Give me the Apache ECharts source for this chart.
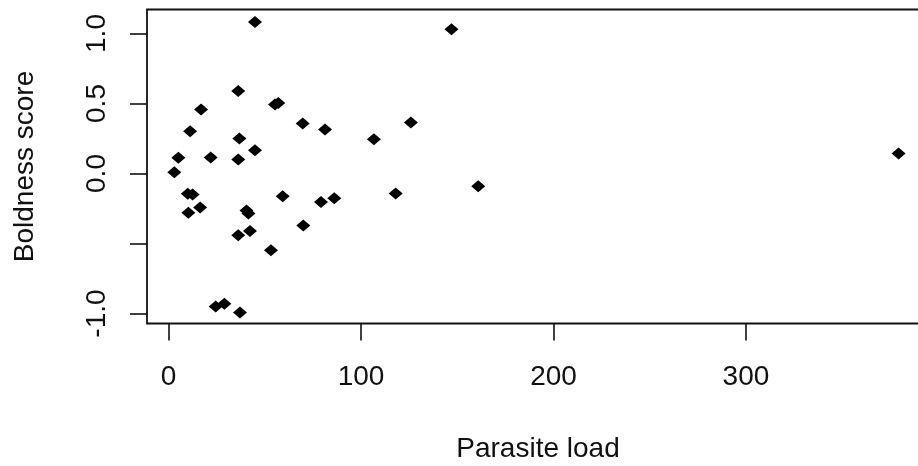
<!DOCTYPE html>
<html>
<head>
<meta charset="utf-8">
<script src="https://cdn.jsdelivr.net/npm/echarts@6/dist/echarts.min.js"></script>
<style>
html,body{margin:0;padding:0;background:#fff;}
#chart{width:918px;height:466px;}
</style>
</head>
<body>
<div id="chart"></div>
<script>
// Parasite load (x) and Boldness score (y)
var parasiteLoad = [3.0, 5.1, 10.0, 12.5, 10.3, 11.2, 16.4, 16.9, 21.9, 24.5, 29.0, 36.2, 36.2, 36.8, 37.1,
  36.2, 40.5, 41.5, 42.3, 44.9, 44.9, 53.2, 55.3, 57.0, 59.3, 69.7, 70.0, 79.2, 81.3, 86.1,
  106.7, 118.0, 125.9, 147.0, 160.9, 379.3];
var boldnessScore = [0.009, 0.113, -0.145, -0.15, -0.281, 0.302, -0.243, 0.457, 0.114, -0.95, -0.93, 0.590, 0.100, 0.250, -0.993,
  -0.441, -0.265, -0.285, -0.41, 1.083, 0.166, -0.548, 0.493, 0.504, -0.162, 0.357, -0.371, -0.203, 0.314, -0.176,
  0.245, -0.143, 0.364, 1.031, -0.091, 0.143];
var xTicks = [0, 100, 200, 300];
var yTicks = [-1, -0.5, 0, 0.5, 1];
var yTickLabels = [-1, 0, 0.5, 1];

var points = parasiteLoad.map(function (v, i) { return [v, boldnessScore[i]]; });
var font = 'Liberation Sans, Arial, sans-serif';
var txt = '#111';

var chart = echarts.init(document.getElementById('chart'), null, {renderer: 'canvas'});
chart.setOption({
  animation: false,
  backgroundColor: '#fff',
  grid: {
    left: 147, right: -11, top: 9.5, bottom: 142.5,
    outerBoundsMode: 'none',
    containLabel: false,
    show: true, borderColor: '#111', borderWidth: 1.8, backgroundColor: 'transparent'
  },
  xAxis: {
    type: 'value',
    min: -11.2, max: 395.1,
    splitLine: {show: false},
    axisLine: {show: false, onZero: false},
    axisTick: {show: true, inside: false, customValues: xTicks, length: 17, lineStyle: {color: '#111', width: 1.6}},
    axisLabel: {customValues: xTicks, margin: 40, fontFamily: font, fontSize: 28, color: txt},
    name: 'Parasite load',
    nameLocation: 'middle',
    nameGap: 112,
    nameTextStyle: {fontFamily: font, fontSize: 28, color: txt}
  },
  yAxis: {
    type: 'value',
    min: -1.0714, max: 1.1714,
    splitLine: {show: false},
    axisLine: {show: false, onZero: false},
    axisTick: {show: true, inside: false, customValues: yTicks, length: 17, lineStyle: {color: '#111', width: 1.6}},
    axisLabel: {
      customValues: yTickLabels, rotate: 90, margin: 36,
      fontFamily: font, fontSize: 28, color: txt,
      formatter: function (v) { return v.toFixed(1); }
    },
    name: 'Boldness score',
    nameLocation: 'middle',
    nameGap: 108,
    nameTextStyle: {fontFamily: font, fontSize: 28, color: txt}
  },
  series: [{
    type: 'scatter',
    data: points,
    symbol: 'diamond',
    symbolSize: [14, 12],
    itemStyle: {color: '#000', opacity: 1}
  }]
});
</script>
</body>
</html>
